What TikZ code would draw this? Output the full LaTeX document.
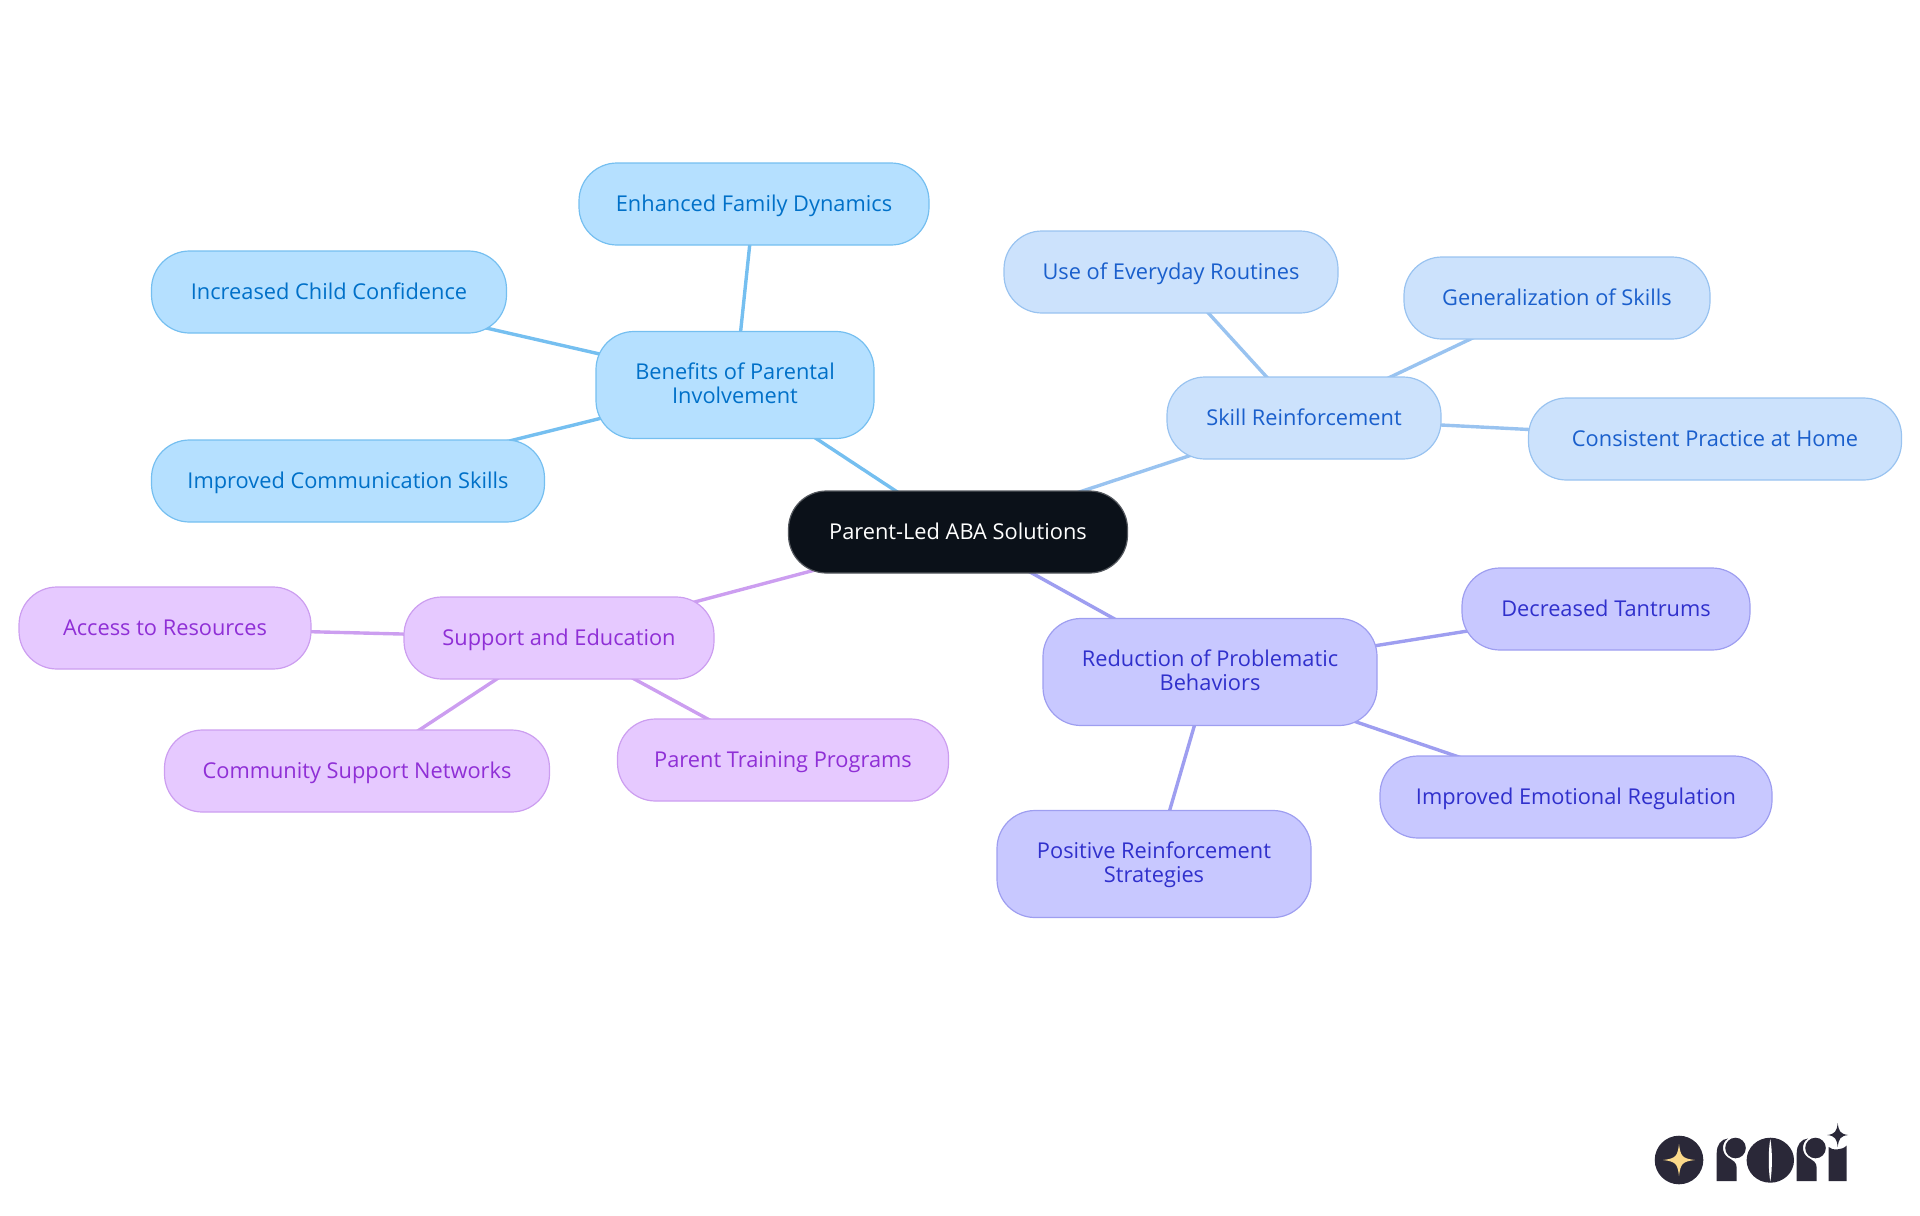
\documentclass[tikz,border=0pt]{standalone}
\usepackage{fontspec}
\setmainfont{Open Sans}
\usepackage{xcolor}
\usetikzlibrary{backgrounds}
\definecolor{rootfill}{HTML}{0B1119}
\definecolor{logodark}{HTML}{2A2838}
\definecolor{logostar}{HTML}{FBD98A}
\definecolor{benefill}{HTML}{B5E0FF}
\definecolor{benedraw}{HTML}{75BFF0}
\definecolor{benetext}{HTML}{0070C8}
\definecolor{skillfill}{HTML}{CCE2FC}
\definecolor{skilldraw}{HTML}{99C3F0}
\definecolor{skilltext}{HTML}{1A5FCC}
\definecolor{redufill}{HTML}{C8C8FF}
\definecolor{redudraw}{HTML}{9E9EF0}
\definecolor{redutext}{HTML}{3030CC}
\definecolor{suppfill}{HTML}{E6C9FF}
\definecolor{suppdraw}{HTML}{CC9EF0}
\definecolor{supptext}{HTML}{8F2FD6}

\begin{document}
\begin{tikzpicture}[x=0.5pt,y=-0.5pt]
		\tikzstyle{topic}=[rounded corners=19pt,line width=0.6pt,align=center,inner sep=0pt,minimum height=41pt,text height=8.5pt,text depth=1.5pt,font=\fontsize{10.9}{12.25}\selectfont]
		\tikzstyle{root}=[topic,draw=rootfill!70!white,fill=rootfill,text=white]
		\tikzstyle{bene}=[topic,draw=benedraw,fill=benefill,text=benetext]
		\tikzstyle{skill}=[topic,draw=skilldraw,fill=skillfill,text=skilltext]
		\tikzstyle{redu}=[topic,draw=redudraw,fill=redufill,text=redutext]
		\tikzstyle{supp}=[topic,draw=suppdraw,fill=suppfill,text=supptext]
		\tikzstyle{twolines}=[minimum height=53.5pt,text height=20.85pt,text depth=1.95pt]
		\tikzstyle{link}=[line width=1.7pt]
		\tikzstyle{logo}=[fill=logodark,draw=none]

		\useasboundingbox (0,0) rectangle (1920,1215);

		\node [root,minimum width=169.5pt] (aba) at (958,532) {Parent-Led ABA Solutions};

		\begin{scope}
			\node [bene,twolines,minimum width=139pt] (benefits) at (735,385) {Benefits of Parental\\Involvement};
			\node [bene,minimum width=175pt] (family) at (754,204) {Enhanced Family Dynamics};
			\node [bene,minimum width=177.5pt] (confidence) at (329,292) {Increased Child Confidence};
			\node [bene,minimum width=196.5pt] (communication) at (348,481) {Improved Communication Skills};
		\end{scope}

		\begin{scope}
			\node [skill,minimum width=137pt] (reinforce) at (1304,418) {Skill Reinforcement};
			\node [skill,minimum width=167pt] (routines) at (1171,272) {Use of Everyday Routines};
			\node [skill,minimum width=153pt] (general) at (1557,298) {Generalization of Skills};
			\node [skill,minimum width=186.5pt] (practice) at (1715,439) {Consistent Practice at Home};
		\end{scope}

		\begin{scope}
			\node [redu,twolines,minimum width=167pt] (reduction) at (1210,672) {Reduction of Problematic\\Behaviors};
			\node [redu,minimum width=144pt] (tantrums) at (1606,609) {Decreased Tantrums};
			\node [redu,minimum width=196pt] (emotional) at (1576,797) {Improved Emotional Regulation};
			\node [redu,twolines,minimum width=157pt] (positive) at (1154,864) {Positive Reinforcement\\Strategies};
		\end{scope}

		\begin{scope}
			\node [supp,minimum width=155pt] (support) at (559,638) {Support and Education};
			\node [supp,minimum width=146pt] (resources) at (165,628) {Access to Resources};
			\node [supp,minimum width=192.5pt] (networks) at (357,771) {Community Support Networks};
			\node [supp,minimum width=165.5pt] (training) at (783,760) {Parent Training Programs};
		\end{scope}

		\begin{pgfonlayer}{background}
			\draw [link,draw=benedraw] (aba.center) -- (benefits.center);
			\draw [link,draw=benedraw] (benefits.center) -- (family.center);
			\draw [link,draw=benedraw] (benefits.center) -- (confidence.center);
			\draw [link,draw=benedraw] (benefits.center) -- (communication.center);
			\draw [link,draw=skilldraw] (aba.center) -- (reinforce.center);
			\draw [link,draw=skilldraw] (reinforce.center) -- (routines.center);
			\draw [link,draw=skilldraw] (reinforce.center) -- (general.center);
			\draw [link,draw=skilldraw] (reinforce.center) -- (practice.center);
			\draw [link,draw=redudraw] (aba.center) -- (reduction.center);
			\draw [link,draw=redudraw] (reduction.center) -- (tantrums.center);
			\draw [link,draw=redudraw] (reduction.center) -- (emotional.center);
			\draw [link,draw=redudraw] (reduction.center) -- (positive.center);
			\draw [link,draw=suppdraw] (aba.center) -- (support.center);
			\draw [link,draw=suppdraw] (support.center) -- (resources.center);
			\draw [link,draw=suppdraw] (support.center) -- (networks.center);
			\draw [link,draw=suppdraw] (support.center) -- (training.center);
		\end{pgfonlayer}

		% logo
		\fill [logo] (1679,1160) circle (24.3);
		\fill [logostar] (1679,1144) .. controls (1680.5,1156) and (1682,1158.5) .. (1695,1160) .. controls (1682,1161.5) and (1680.5,1164) .. (1679,1176) .. controls (1677.5,1164) and (1676,1161.5) .. (1663,1160) .. controls (1676,1158.5) and (1677.5,1156) .. (1679,1144) -- cycle;
		\foreach \letter in {0,40} {
			\begin{scope}[xshift=\letter pt]
				\fill [logo] (1716.7,1181) -- (1716.7,1153) .. controls (1716.7,1145) and (1721,1139) .. (1728,1138.5) .. controls (1724,1141) and (1723,1145) .. (1723,1148) .. controls (1723,1152) and (1725,1155.5) .. (1728,1157.5) .. controls (1733,1160.5) and (1736.7,1162) .. (1736.7,1168) -- (1736.7,1181) -- cycle;
				\fill [logo] (1735.5,1148) circle (10.3);
			\end{scope}
		}
		\fill [logo] (1770.3,1160.2) ellipse (23.7 and 22.5);
		\fill [white] (1770.3,1139) .. controls (1768.2,1150) and (1768.2,1170) .. (1770.3,1181.5) .. controls (1772.4,1170) and (1772.4,1150) .. (1770.3,1139) -- cycle;
		\fill [logo] (1828.7,1181) -- (1828.7,1147) .. controls (1832,1150.5) and (1842,1150.5) .. (1846.7,1145.5) -- (1846.7,1181) -- cycle;
		\fill [logo] (1837.7,1123) .. controls (1838.7,1131) and (1840,1134) .. (1848.2,1135) .. controls (1840,1136) and (1838.7,1139) .. (1837.7,1147) .. controls (1836.7,1139) and (1835.4,1136) .. (1827.2,1135) .. controls (1835.4,1134) and (1836.7,1131) .. (1837.7,1123) -- cycle;
\end{tikzpicture}
\end{document}
